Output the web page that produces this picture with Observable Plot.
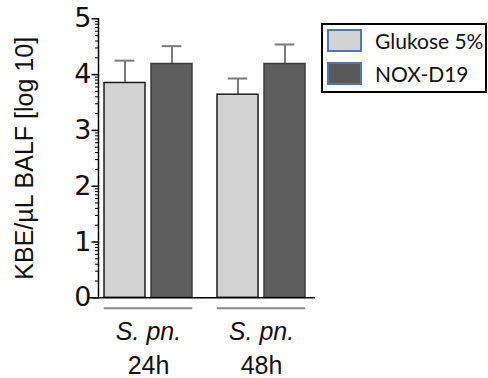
<!DOCTYPE html>
<html>
<head>
<meta charset="utf-8">
<script src="https://cdn.jsdelivr.net/npm/d3@7"></script>
<script src="https://cdn.jsdelivr.net/npm/@observablehq/plot@0.6"></script>
<style>
  html, body { margin: 0; padding: 0; background: #fff; }
  #wrap { position: relative; width: 488px; height: 378px; overflow: hidden; }
  #legend { position: absolute; left: 321px; top: 23px; width: 162px; height: 66px;
    border: 2px solid #000; background: #fff; font-family: Lato, "Open Sans", sans-serif; font-size: 21px; color: #111; }
  .item { position: absolute; left: 4px; height: 22px; display: flex; align-items: center; }
  .sw { width: 31px; height: 19px; border: 2px solid #5079a8; box-sizing: content-box; margin-right: 13px; }
</style>
</head>
<body>
<div id="wrap"></div>
<script>
// ---- data ----
const groups = ["24h", "48h"];
const species = "S. pn.";
const series = ["Glukose 5%", "NOX-D19"];
const glukoseMean = [3.85, 3.64];
const glukoseSem = [0.40, 0.29];
const noxMean = [4.19, 4.19];
const noxSem = [0.32, 0.35];
const majorTicks = [0, 1, 2, 3, 4, 5];
const yLabel = "KBE/µL BALF [log 10]";

// ---- styles ----
const seriesFill = ["#d3d3d3", "#5e5e5e"];
const seriesStroke = ["#1e1e1e", "#3c3c3c"];
const legendFill = ["#d3d3d3", "#595959"];

const rows = [];
groups.forEach((g, i) => {
  rows.push({group: g, series: series[0], mean: glukoseMean[i], sem: glukoseSem[i]});
  rows.push({group: g, series: series[1], mean: noxMean[i], sem: noxSem[i]});
});
rows.forEach(r => { r.upper = r.mean + r.sem; r.stroke = seriesStroke[series.indexOf(r.series)]; });

// log-style minor ticks between the integer ticks
const minorTicks = [];
for (let k = 0; k < 5; k++) for (let m = 2; m <= 9; m++) minorTicks.push(k + Math.log10(m));

const plot = Plot.plot({
  width: 488,
  height: 378,
  marginLeft: 97,
  marginRight: 176.6,
  marginTop: 18.3,
  marginBottom: 80.7,
  style: {fontFamily: "'Liberation Sans', Arial, sans-serif", color: "#000", background: "#fff"},
  fx: {domain: groups, paddingInner: 0.119, paddingOuter: 0, axis: null, label: null},
  x: {domain: series, paddingInner: 0.126, paddingOuter: 0.12, axis: null, label: null},
  y: {domain: [0, 5], label: null},
  color: {domain: series, range: seriesFill},
  marks: [
    // error bars
    Plot.ruleX(rows, {fx: "group", x: "series", y1: "mean", y2: "upper", stroke: "#7a7a7a", strokeWidth: 2}),
    Plot.tickY(rows, {fx: "group", x: "series", y: "upper", stroke: "#7a7a7a", strokeWidth: 2, insetLeft: 10.7, insetRight: 10.7}),
    // bars
    Plot.barY(rows, {fx: "group", x: "series", y: "mean", fill: "series", stroke: "stroke", strokeWidth: 1.5}),
    // baseline
    Plot.ruleY([0], {stroke: "#000", strokeWidth: 1.5, insetLeft: -9.6, insetRight: -4}),
    // group underline
    Plot.ruleY([0], {stroke: "#8a8a8a", strokeWidth: 2, dy: 10.4, insetLeft: 5.7, insetRight: 5.7}),
    // y axis line (first facet only)
    Plot.frame({anchor: "left", fx: () => groups[0], stroke: "#000", strokeWidth: 1.5}),
    // axis ticks
    Plot.axisY({ticks: minorTicks, tickSize: 3, text: null, label: null, stroke: "#000", strokeWidth: 1}),
    Plot.axisY({ticks: majorTicks, tickFormat: d3.format("d"), tickSize: 6.5, tickPadding: 0.5,
      fontSize: 27, fontFamily: "'DejaVu Sans', sans-serif", stroke: "#000", strokeWidth: 1.5, fill: "#111",
      label: null}),
    Plot.axisY({ticks: [], tickSize: 0, label: yLabel, labelAnchor: "center", labelArrow: "none",
      labelOffset: 83, fontSize: 25, fill: "#111"}),
    // group labels
    Plot.text(groups, {fx: d => d, text: () => species, frameAnchor: "bottom", lineAnchor: "bottom", dy: 42,
      fontSize: 25, fontStyle: "italic", fill: "#111"}),
    Plot.text(groups, {fx: d => d, text: d => d, frameAnchor: "bottom", lineAnchor: "bottom", dy: 75.7,
      fontSize: 25, fill: "#111"})
  ]
});

const wrap = document.getElementById("wrap");
wrap.appendChild(plot);

// legend
const legend = document.createElement("div");
legend.id = "legend";
series.forEach((s, i) => {
  const item = document.createElement("div");
  item.className = "item";
  item.style.top = (4 + i * 33.3) + "px";
  const sw = document.createElement("span");
  sw.className = "sw";
  sw.style.background = legendFill[i];
  const label = document.createElement("span");
  label.textContent = s;
  item.appendChild(sw);
  item.appendChild(label);
  legend.appendChild(item);
});
wrap.appendChild(legend);
</script>
</body>
</html>
